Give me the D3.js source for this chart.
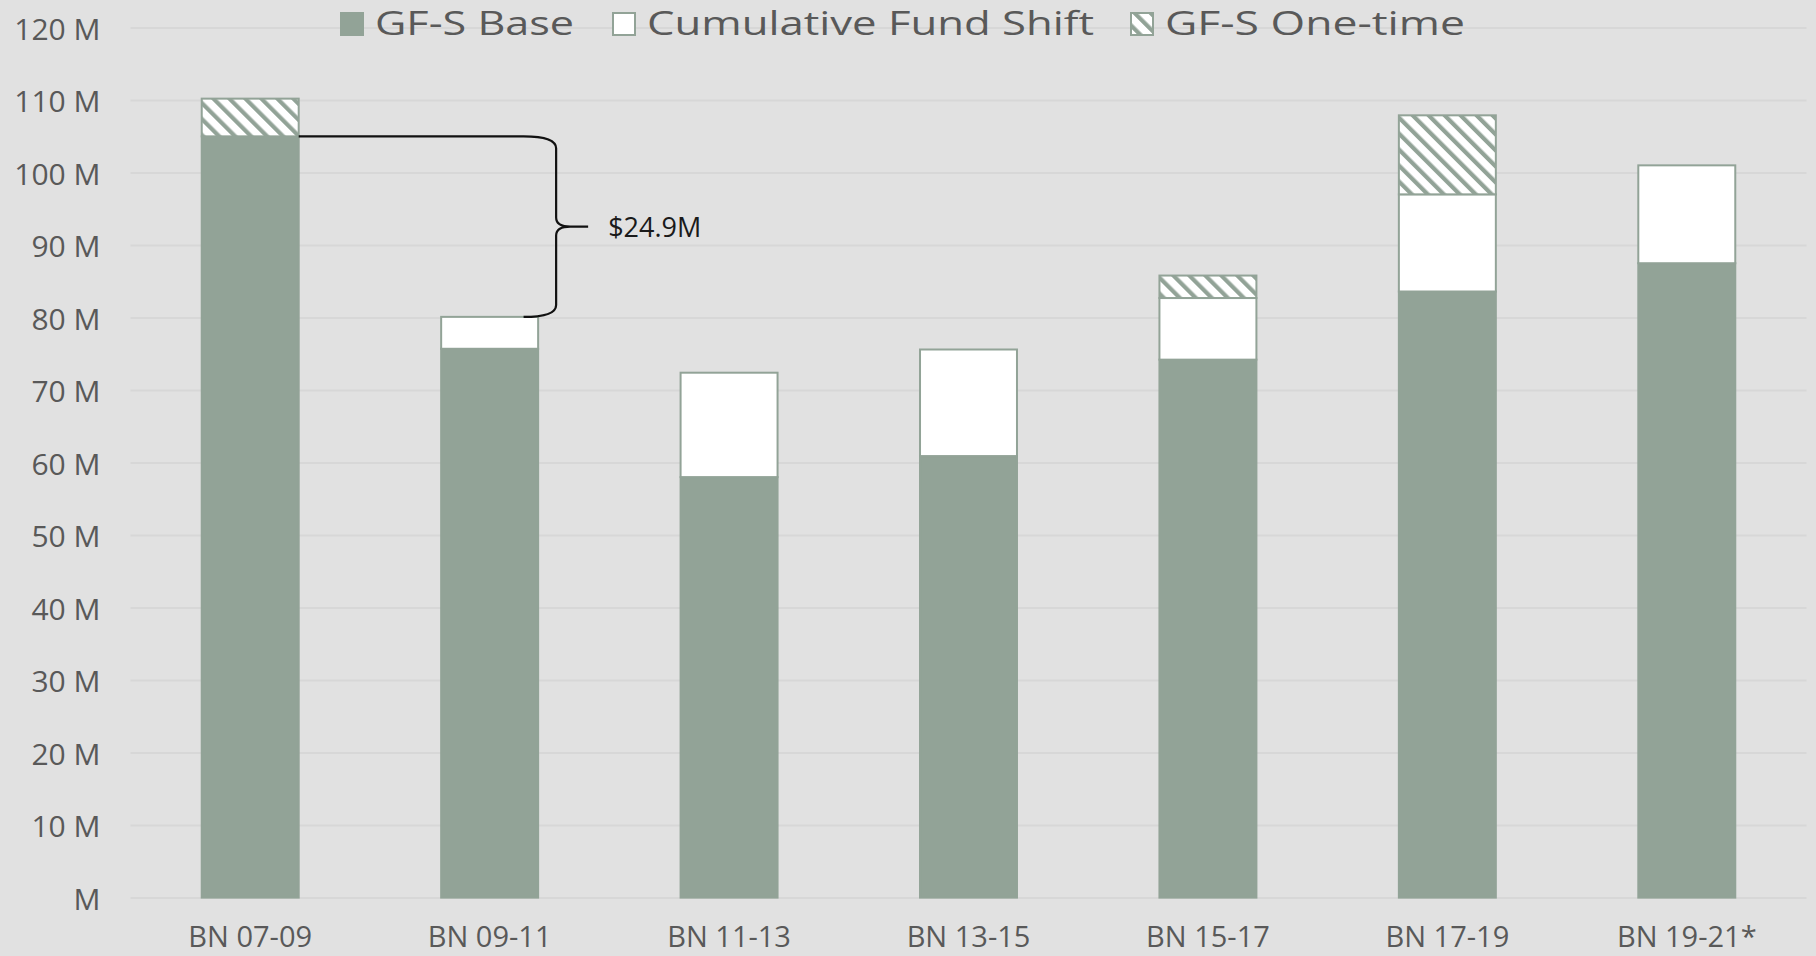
<!DOCTYPE html>
<html>
<head>
<meta charset="utf-8">
<script src="https://cdn.jsdelivr.net/npm/d3@7"></script>
<style>
    html, body { margin: 0; padding: 0; background: #e1e1e1; overflow: hidden; }
    text { font-family: "Open Sans", "DejaVu Sans", sans-serif; fill: #595959; }
</style>
</head>
<body>
<script>
// values in millions
const categories = ["BN 07-09", "BN 09-11", "BN 11-13", "BN 13-15", "BN 15-17", "BN 17-19", "BN 19-21*"];
const gfsBase = [105.0, 75.7, 58.0, 60.9, 74.2, 83.6, 87.5];
const fundShift = [0, 4.4, 14.4, 14.7, 8.5, 13.4, 13.5];
const gfsOneTime = [5.2, 0, 0, 0, 3.1, 10.9, 0];
const seriesNames = ["GF-S Base", "Cumulative Fund Shift", "GF-S One-time"];
const yTicks = [0, 10, 20, 30, 40, 50, 60, 70, 80, 90, 100, 110, 120];
const yTickLabels = ["M", "10 M", "20 M", "30 M", "40 M", "50 M", "60 M", "70 M", "80 M", "90 M", "100 M", "110 M", "120 M"];
const braceLabel = "$24.9M";

const width = 1816,
    height = 956;
const plotLeft = 130.5,
    plotRight = 1806.5,
    plotTop = 27.6,
    plotBottom = 897.6;

const green = "#92a397";
const keys = ["base", "shift", "oneTime"];

const table = categories.map((c, i) => ({
    cat: c,
    base: gfsBase[i],
    shift: fundShift[i],
    oneTime: gfsOneTime[i]
}));

const svg = d3.select("body")
    .append("svg")
    .attr("width", width)
    .attr("height", height);

// hatch pattern for one-time money
const defs = svg.append("defs");
const pat = defs.append("pattern")
    .attr("id", "hatch")
    .attr("patternUnits", "userSpaceOnUse")
    .attr("width", 11.3)
    .attr("height", 11.3)
    .attr("patternTransform", "rotate(-45)");
pat.append("rect").attr("width", 11.3).attr("height", 11.3).attr("fill", "#fff");
pat.append("rect").attr("width", 4.2).attr("height", 11.3).attr("fill", green);

const fills = [green, "#ffffff", "url(#hatch)"];

const xScale = d3.scaleBand()
    .domain(categories)
    .range([plotLeft, plotRight])
    .paddingInner(0.595)
    .paddingOuter(0.2975);

const yScale = d3.scaleLinear()
    .domain([0, 120])
    .range([plotBottom, plotTop]);

// y axis + gridlines
const yAxis = d3.axisLeft(yScale)
    .tickValues(yTicks)
    .tickFormat((d, i) => yTickLabels[i])
    .tickSize(-(plotRight - plotLeft))
    .tickPadding(30);

const yg = svg.append("g")
    .attr("id", "y-axis")
    .attr("transform", "translate(" + plotLeft + ",0)")
    .call(yAxis);
yg.select(".domain").remove();
yg.selectAll("line").attr("stroke", "#d7d7d7").attr("stroke-width", 2);
yg.selectAll("text")
    .attr("font-size", 30)
    .attr("dy", "0.38em")
    .style("font-family", "'Open Sans', sans-serif")
    .attr("fill", "#595959");

// stacked bars
const stacked = d3.stack().keys(keys)(table);

svg.append("g")
    .selectAll("g")
    .data(stacked)
    .enter()
    .append("g")
    .attr("fill", (d, i) => fills[i])
    .selectAll("rect")
    .data(d => d.filter(s => s[1] - s[0] > 0))
    .enter()
    .append("rect")
    .attr("x", d => xScale(d.data.cat))
    .attr("y", d => yScale(d[1]))
    .attr("width", xScale.bandwidth())
    .attr("height", d => yScale(d[0]) - yScale(d[1]))
    .attr("stroke", green)
    .attr("stroke-width", 2);

// x axis
const xAxis = d3.axisBottom(xScale)
    .tickSize(0)
    .tickPadding(29);

const xg = svg.append("g")
    .attr("id", "x-axis")
    .attr("transform", "translate(0," + plotBottom + ")")
    .call(xAxis);
xg.select(".domain").remove();
xg.selectAll("text")
    .attr("font-size", 29)
    .style("font-family", "'Open Sans', sans-serif")
    .attr("fill", "#595959");

// brace between BN 07-09 base and BN 09-11 total
const yTopB = yScale(gfsBase[0]);
const yBotB = yScale(gfsBase[1] + fundShift[1] + gfsOneTime[1]);
const x1 = xScale(categories[0]) + xScale.bandwidth();
const xe = xScale(categories[1]) + xScale.bandwidth() * 0.85;
const xv = xScale(categories[1]) + xScale.bandwidth() + 18;
const xt = xv + 32;
const ym = (yTopB + yBotB) / 2;

const p = d3.path();
p.moveTo(x1, yTopB);
p.lineTo(xe, yTopB);
p.quadraticCurveTo(xv, yTopB, xv, yTopB + 12);
p.lineTo(xv, ym - 9);
p.quadraticCurveTo(xv, ym, xv + 14, ym);
p.lineTo(xt, ym);
p.moveTo(xv + 14, ym);
p.quadraticCurveTo(xv, ym, xv, ym + 9);
p.lineTo(xv, yBotB - 12);
p.quadraticCurveTo(xv, yBotB, xe, yBotB);

svg.append("path")
    .attr("d", p.toString())
    .attr("fill", "none")
    .attr("stroke", "#111")
    .attr("stroke-width", 2.2);

svg.append("text")
    .attr("x", xt + 20)
    .attr("y", ym + 10)
    .attr("font-size", 27)
    .style("fill", "#1a1a1a")
    .text(braceLabel);

// legend
const legendX = [340, 612, 1130];
const legendLen = [199, 447, 300];
const legend = svg.append("g").attr("id", "legend");
seriesNames.forEach((name, i) => {
    legend.append("rect")
        .attr("x", legendX[i] + 1)
        .attr("y", 13)
        .attr("width", 22)
        .attr("height", 22)
        .attr("fill", fills[i])
        .attr("stroke", green)
        .attr("stroke-width", 2);
    legend.append("text")
        .attr("x", legendX[i] + 35)
        .attr("y", 35)
        .attr("font-size", 32)
        .attr("textLength", legendLen[i])
        .attr("lengthAdjust", "spacingAndGlyphs")
        .text(name);
});
</script>
</body>
</html>
